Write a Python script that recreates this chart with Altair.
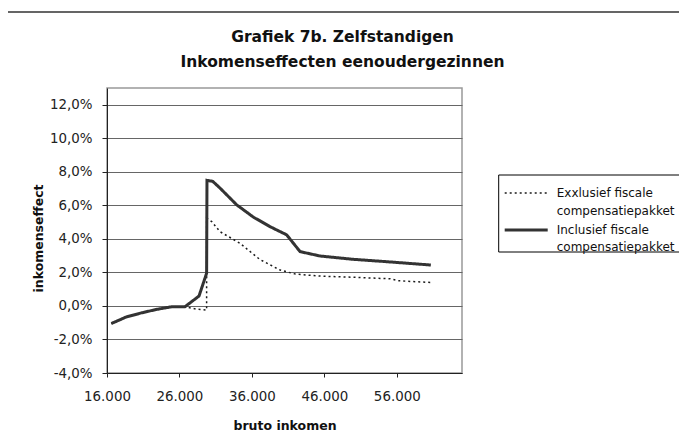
import altair as alt
import pandas as pd

# ---- data ----
series_names = ["Exxlusief fiscale compensatiepakket", "Inclusief fiscale compensatiepakket"]
legend_line1 = ["Exxlusief fiscale", "Inclusief fiscale"]
legend_line2 = ["compensatiepakket", "compensatiepakket"]

exc_x = [16600, 18700, 20800, 22800, 24900, 26750, 28350, 29750, 29750, 30450, 31600, 34350,
         37100, 39900, 42000, 45400, 50000, 55100, 56300, 60700]
exc_y = [-1.05, -0.65, -0.41, -0.21, -0.05, -0.05, -0.19, -0.25, 5.24, 5.03, 4.43, 3.74,
         2.77, 2.14, 1.90, 1.78, 1.71, 1.62, 1.50, 1.40]

inc_x = [16600, 18700, 20800, 22800, 24900, 26750, 28700, 29750, 29800, 30600, 31600, 33900,
         36200, 38500, 40800, 42650, 45400, 50000, 54600, 60700]
inc_y = [-1.05, -0.65, -0.41, -0.21, -0.05, -0.05, 0.59, 1.95, 7.49, 7.43, 7.03, 6.03,
         5.30, 4.73, 4.24, 3.24, 2.98, 2.78, 2.64, 2.44]

x_ticks = [16000, 26000, 36000, 46000, 56000]
y_ticks = [-4, -2, 0, 2, 4, 6, 8, 10, 12]

rows = []
for name, xs, ys in [(series_names[0], exc_x, exc_y), (series_names[1], inc_x, inc_y)]:
    for i, (xv, yv) in enumerate(zip(xs, ys)):
        rows.append({"serie": name, "inkomen": xv, "effect": yv, "volg": i})
df = pd.DataFrame(rows)

FONT = "DejaVu Sans"
DASHES = [[2, 3], [1, 0]]
WIDTHS = [1.5, 3]
COLORS = ["#1a1a1a", "#333333"]

lines = alt.Chart(df).mark_line(strokeJoin="miter", strokeCap="butt").encode(
    x=alt.X("inkomen:Q",
            scale=alt.Scale(domain=[16000, 65000], nice=False, zero=False),
            axis=alt.Axis(values=x_ticks, grid=False, title="bruto inkomen",
                          labelExpr="replace(format(datum.value, ',d'), ',', '.')",
                          labelFlush=False, tickSize=4, labelPadding=12, titlePadding=17)),
    y=alt.Y("effect:Q",
            scale=alt.Scale(domain=[-4, 13], nice=False, zero=False),
            axis=alt.Axis(values=y_ticks, grid=True, title="inkomenseffect",
                          labelExpr="(datum.value < 0 ? '-' : '') + replace(format(abs(datum.value), '.1f'), '.', ',') + '%'",
                          labelFlush=False, tickSize=5, labelPadding=10, titlePadding=4, titleY=150)),
    order="volg:Q",
    strokeDash=alt.StrokeDash("serie:N", scale=alt.Scale(domain=series_names, range=DASHES), legend=None),
    strokeWidth=alt.StrokeWidth("serie:N", scale=alt.Scale(domain=series_names, range=WIDTHS), legend=None),
    color=alt.Color("serie:N", scale=alt.Scale(domain=series_names, range=COLORS), legend=None),
)

one = pd.DataFrame({"k": [0]})

# outer chart border
frame = alt.Chart(one).mark_rect(filled=False, stroke="#333333", strokeWidth=1.5).encode(
    x=alt.value(-100), x2=alt.value(700), y=alt.value(-76), y2=alt.value(400)
)

# legend (drawn by hand to match the reference's two-line entries)
leg_box = alt.Chart(one).mark_rect(filled=False, stroke="black", strokeWidth=1).encode(
    x=alt.value(391.7), x2=alt.value(640), y=alt.value(87), y2=alt.value(164)
)
leg_sym1 = alt.Chart(one).mark_rule(strokeDash=DASHES[0], strokeWidth=WIDTHS[0], color=COLORS[0]).encode(
    x=alt.value(397.7), x2=alt.value(440.7), y=alt.value(105)
)
leg_sym2 = alt.Chart(one).mark_rule(strokeWidth=WIDTHS[1], color=COLORS[1]).encode(
    x=alt.value(397.7), x2=alt.value(440.7), y=alt.value(142)
)
leg_texts = []
for line, ypos in [(legend_line1[0], 105), (legend_line2[0], 123), (legend_line1[1], 142), (legend_line2[1], 159)]:
    leg_texts.append(
        alt.Chart(pd.DataFrame({"t": [line]})).mark_text(
            align="left", baseline="middle", font=FONT, fontSize=12, color="#111"
        ).encode(text="t:N", x=alt.value(449.7), y=alt.value(ypos))
    )

chart = alt.layer(frame, lines, leg_box, leg_sym1, leg_sym2, *leg_texts).properties(
    width=355, height=285,
    autosize=alt.AutoSizeParams(type="none"),
    padding={"left": 99, "top": 80, "right": 217, "bottom": 66},
    title=alt.Title(["Grafiek 7b.  Zelfstandigen", "Inkomenseffecten eenoudergezinnen"],
                    font=FONT, fontSize=15.5, fontWeight="bold", color="#111",
                    anchor="middle", frame="group", dx=58, offset=-59, lineHeight=25),
).configure_view(stroke="#999999", strokeWidth=1.5).configure_axis(
    labelFont=FONT, labelFontSize=13.4, labelColor="#222",
    titleFont=FONT, titleFontSize=12.5, titleFontWeight="bold", titleColor="#111",
    domainColor="#222", domainWidth=1, tickColor="#222",
    gridColor="#666", gridWidth=1,
)

chart.save("out.html", embed_options={"renderer": "svg", "actions": False})
